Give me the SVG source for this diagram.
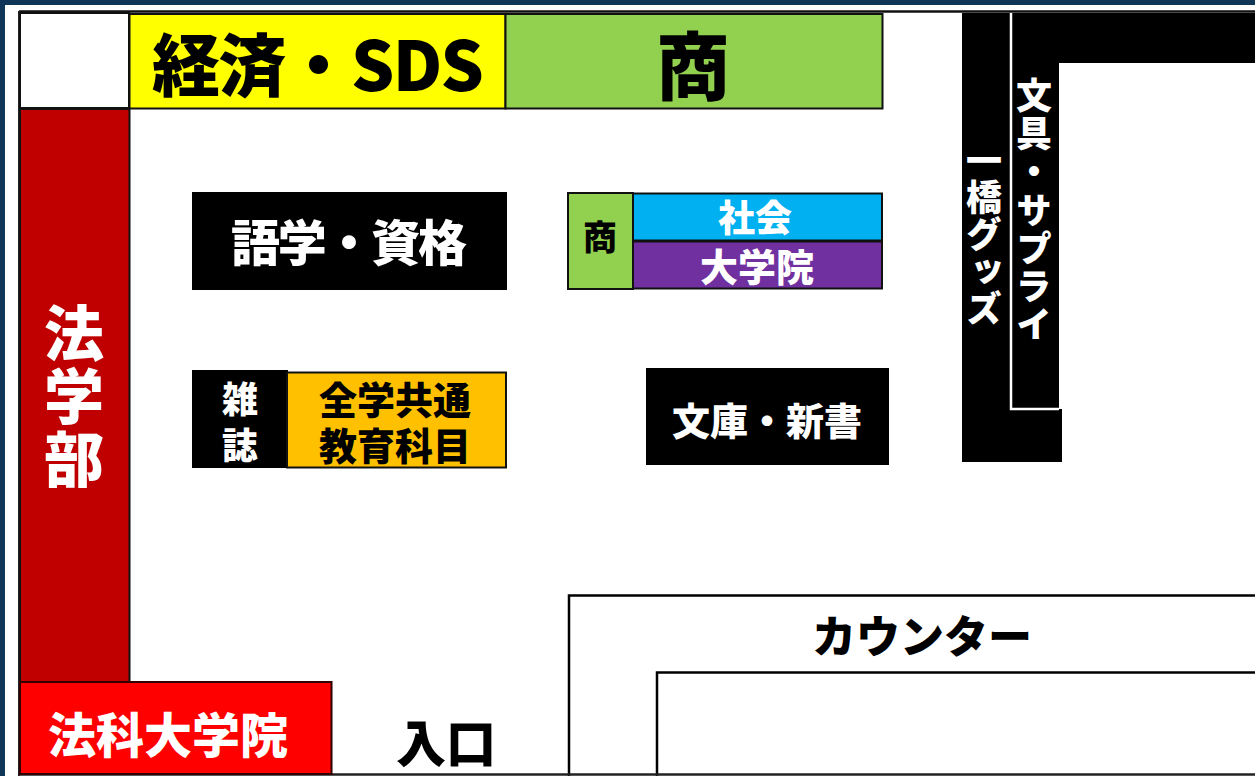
<svg xmlns="http://www.w3.org/2000/svg" width="1255" height="776" viewBox="0 0 1255 776">
<style>
text{font-family:"Noto Sans CJK JP","Noto Sans CJK SC",sans-serif;font-weight:900;text-anchor:middle}
.b{stroke:#111;stroke-width:2;}
.k{fill:#000}
.w{fill:#fff}
.v{writing-mode:vertical-rl;text-anchor:start}
.o{fill:none;stroke:#000;stroke-width:2.5}
</style>
<rect width="1255" height="776" fill="#0f3557"/>
<rect x="5" y="5" width="1250" height="771" fill="#fff"/>
<path d="M19 11.500H1255" stroke="#111" stroke-width="2.500" fill="none"/>
<path d="M19 11V776" stroke="#222" stroke-width="2" fill="none"/>
<g id="corner"><rect x="20" y="13" width="109" height="95" fill="#fff" class="b"/></g>
<g id="keizai"><rect x="129.500" y="14" width="376" height="94.500" fill="#ffff00" class="b"/><text x="318" y="91" font-size="68" class="k" textLength="332" lengthAdjust="spacing">経済・SDS</text></g>
<g id="sho-top"><rect x="505.500" y="14" width="377" height="94.500" fill="#92d050" class="b"/><text x="693" y="94" font-size="74" class="k">商</text></g>
<g id="hogakubu"><rect x="20" y="109" width="109.500" height="573" fill="#c00000" class="b"/><text x="74" y="303" font-size="60" class="w v" letter-spacing="3">法学部</text></g>
<g id="goshaku"><rect x="192" y="192" width="315" height="98" fill="#000"/><text x="349" y="261" font-size="49" class="w" textLength="236" lengthAdjust="spacing">語学・資格</text></g>
<g id="sho-small"><rect x="568" y="193" width="65" height="96" fill="#92d050" class="b"/><text x="600" y="250" font-size="34" class="k">商</text>
<rect x="633" y="193.500" width="249" height="47" fill="#00b0f0" class="b"/><text x="755" y="232" font-size="37" class="w">社会</text>
<rect x="633" y="241.500" width="249" height="47" fill="#7030a0" class="b"/><text x="757" y="281" font-size="38" class="w">大学院</text></g>
<g id="zasshi"><rect x="192" y="370" width="96" height="98" fill="#000"/><text x="240" y="381" font-size="36" class="w v" letter-spacing="10">雑誌</text></g>
<g id="zengaku"><rect x="287" y="372.500" width="219" height="95" fill="#ffc000" class="b"/><text x="395" y="414" font-size="38" class="k">全学共通</text><text x="395" y="460" font-size="38" class="k">教育科目</text></g>
<g id="bunko"><rect x="646" y="368" width="243" height="97" fill="#000"/><text x="767" y="435" font-size="38" class="w">文庫・新書</text></g>
<g id="goods"><path d="M962 13H1255V63H1059V409H1062V462H962Z" fill="#000"/><path d="M1011 13V409H1059" fill="none" stroke="#fff" stroke-width="2.500"/>
<text x="984" y="142" font-size="36" class="w v" letter-spacing="1">一橋グッズ</text>
<text x="1034" y="77" font-size="36" class="w v" letter-spacing="2.300">文具・サプライ</text></g>
<g id="counter"><path d="M569 776V595.500H1255" class="o"/><text x="922" y="653" font-size="44" class="k">カウンター</text></g>
<g id="counter-inner"><path d="M657 776V672.500H1255" class="o"/></g>
<path d="M19 774.500H1255" stroke="#222" stroke-width="2.500" fill="none"/>
<g id="hoka"><rect x="20" y="682" width="311.500" height="92" fill="#ff0000" stroke="#300" stroke-width="2"/><text x="168" y="753" font-size="48" class="w">法科大学院</text></g>
<g id="iriguchi"><text x="446" y="762" font-size="50" class="k">入口</text></g>
<g id="connectors"/>
</svg>
